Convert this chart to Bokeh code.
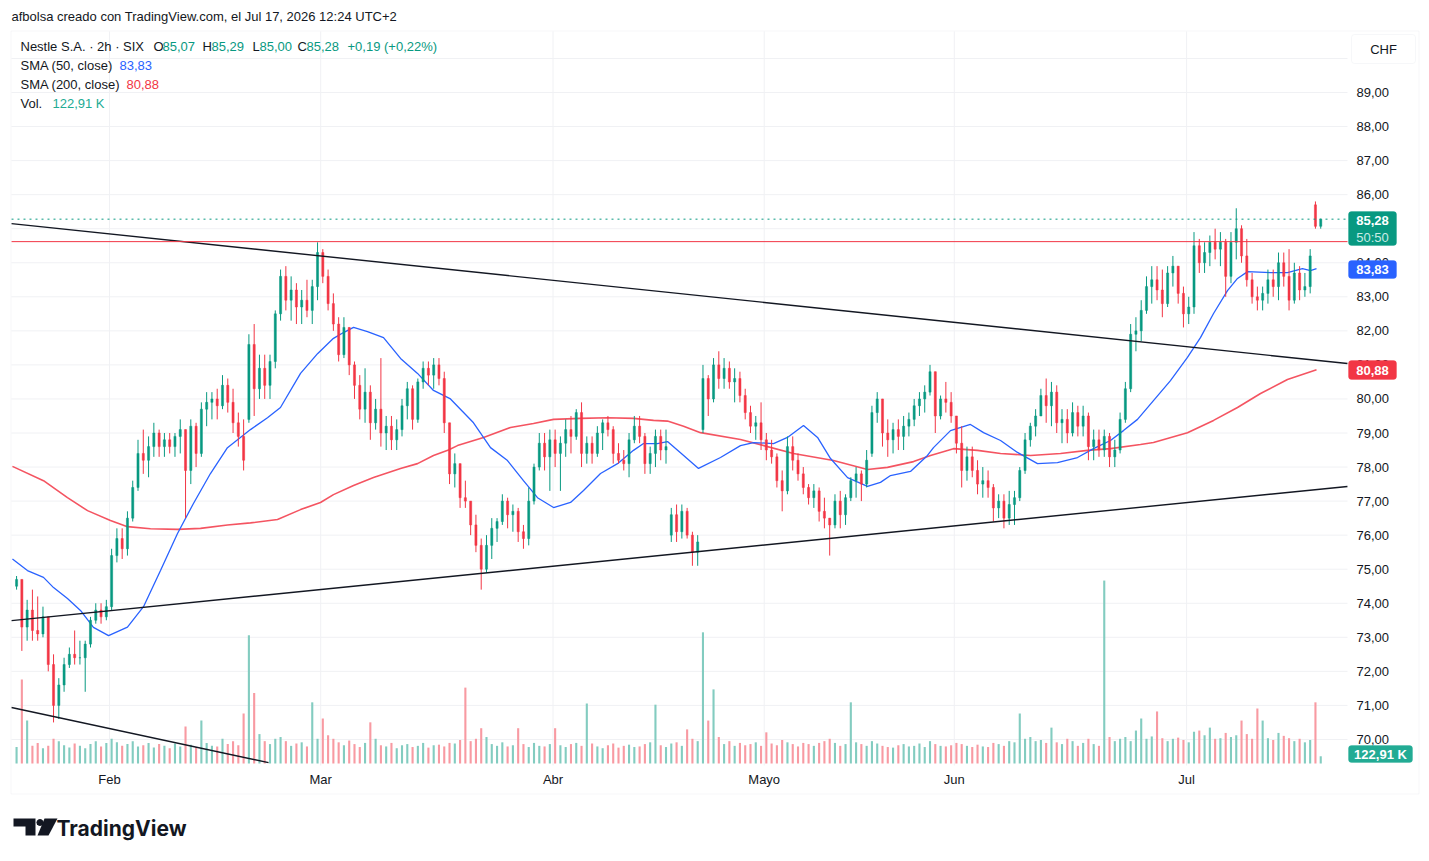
import numpy as np
from bokeh.plotting import figure
from bokeh.models import (Range1d, FixedTicker, Label, BoxAnnotation,
                          PolyAnnotation, ColumnDataSource)
from bokeh.embed import file_html
from bokeh.resources import INLINE

# ---------------- data (2 bars per trading day; day 0 = 2 Feb 2026) ----------------
first_day = -9
bar_open = [
    74.5, 74.7, 73.3, 73.8, 73.2, 73.1, 73.6, 72.2, 71.0, 71.6,
    72.2, 72.5, 72.4, 72.4, 72.8, 73.5, 73.8, 73.6,
    73.9, 75.4, 75.9, 75.6, 76.5, 77.4, 78.4, 78.2, 78.6, 79.0,
    78.6, 78.8, 78.6, 78.9, 79.1, 77.9, 79.2, 78.4, 79.7, 79.9,
    80.0, 79.8, 80.4, 79.9, 79.3, 78.9, 79.4, 81.6, 80.3, 80.9,
    80.4, 81.1, 82.5, 83.6, 82.9, 83.2, 82.7, 82.9, 82.6, 83.3,
    84.3, 83.6, 82.8, 82.2, 81.3, 82.1, 81.0, 80.4, 79.7, 80.2,
    79.3, 79.7, 79.0, 79.2, 78.8, 79.1, 79.8, 80.3, 79.4, 80.5,
    80.9, 80.7, 81.0, 80.6, 79.3, 77.8, 78.1, 77.1, 77.0, 76.3,
    75.7, 75.0, 75.7, 76.2, 76.4, 77.0, 76.6, 76.7, 76.1, 75.9,
    77.0, 78.0, 78.7, 78.3, 78.8, 78.4, 78.7, 79.1, 78.9, 79.6,
    78.4, 78.7, 78.4, 79.0, 79.3, 79.1, 78.4, 78.2, 78.1, 78.8,
    79.2, 78.9, 78.1, 78.4, 78.9, 78.5, 76.0, 76.6, 76.1, 76.7,
    76.0, 75.5, 79.1, 80.6, 80.0, 81.0, 80.6, 80.9, 80.5, 80.6,
    80.1, 79.6, 79.2, 79.3, 78.8, 78.5, 78.3, 77.6, 77.3, 78.6,
    78.2, 77.8, 77.4, 77.1, 77.3, 76.7, 76.5, 76.3, 77.0, 76.6,
    77.1, 77.6, 77.8, 77.5, 78.4, 79.6, 80.0, 79.0, 78.8, 79.1,
    78.9, 79.2, 79.4, 79.8, 80.0, 80.2, 80.8, 79.5, 80.0, 79.9,
    79.5, 78.7, 77.9, 78.3, 77.9, 77.5, 77.6, 77.4, 76.8, 77.0,
    76.5, 76.9, 77.1, 77.9, 78.8, 79.2, 79.5, 80.1, 79.8, 80.2,
    79.3, 79.4, 79.0, 79.6, 79.2, 79.5, 78.6, 78.8, 78.5, 78.9,
    78.3, 78.5, 79.4, 80.3, 81.9, 82.0, 82.6, 83.3, 83.5, 83.2,
    82.8, 83.7, 83.9, 83.1, 82.5, 82.7, 84.5, 84.0, 84.3, 84.6,
    84.4, 84.6, 83.6, 84.6, 85.0, 84.2, 83.5, 83.0, 82.9, 83.1,
    83.5, 83.3, 84.0, 83.6, 82.9, 83.7, 83.2, 83.3, 85.7, 85.07,
]
bar_high = [
    74.8, 74.7, 74.1, 74.4, 74.2, 73.9, 73.6, 72.5, 71.8, 72.4,
    72.7, 73.2, 72.9, 72.9, 73.6, 74.0, 74.0, 74.1,
    75.6, 76.2, 76.2, 76.7, 77.6, 78.8, 79.1, 78.9, 79.3, 79.1,
    79.0, 79.0, 79.0, 79.4, 79.1, 79.4, 79.3, 79.9, 80.2, 80.2,
    80.3, 80.7, 80.6, 80.3, 79.6, 79.4, 81.9, 82.2, 81.3, 81.3,
    81.3, 82.6, 83.8, 83.9, 83.6, 83.4, 83.2, 83.5, 83.5, 84.6,
    84.4, 83.8, 83.1, 82.4, 82.4, 82.1, 81.1, 80.7, 80.9, 80.4,
    80.0, 81.2, 79.5, 79.5, 79.4, 80.0, 80.5, 80.4, 80.6, 81.1,
    81.1, 81.2, 81.2, 80.8, 79.3, 78.4, 78.1, 77.6, 77.0, 76.6,
    75.9, 76.0, 76.5, 76.5, 77.2, 77.1, 76.9, 76.8, 76.3, 77.4,
    78.1, 79.0, 79.0, 79.1, 79.1, 78.9, 79.4, 79.5, 79.7, 79.9,
    78.9, 78.9, 79.2, 79.4, 79.5, 79.2, 78.7, 78.5, 79.0, 79.5,
    79.5, 79.0, 78.6, 79.1, 79.1, 79.1, 76.8, 76.9, 76.9, 76.8,
    76.1, 76.0, 81.0, 80.7, 81.2, 81.4, 81.2, 81.1, 80.9, 80.8,
    80.3, 79.8, 79.5, 79.9, 79.0, 78.8, 78.4, 77.9, 78.9, 78.9,
    78.4, 78.0, 77.5, 77.5, 77.4, 77.1, 76.5, 77.2, 77.3, 77.2,
    77.7, 78.0, 77.9, 78.5, 79.8, 80.2, 80.0, 79.4, 79.3, 79.4,
    79.5, 79.6, 80.0, 80.2, 80.4, 81.0, 80.8, 80.1, 80.5, 80.2,
    79.5, 79.2, 78.6, 78.6, 78.2, 78.0, 77.9, 77.5, 77.2, 77.2,
    77.3, 77.3, 78.0, 79.0, 79.3, 79.7, 80.3, 80.6, 80.5, 80.4,
    79.7, 79.7, 79.9, 79.8, 79.8, 79.6, 79.1, 79.1, 79.1, 79.0,
    78.8, 79.6, 80.5, 82.2, 82.4, 82.9, 83.6, 83.9, 83.9, 83.8,
    83.9, 84.2, 83.9, 83.3, 83.0, 84.9, 84.7, 84.6, 84.8, 85.0,
    84.9, 84.7, 84.9, 85.6, 85.1, 84.7, 83.7, 83.3, 83.3, 83.8,
    83.8, 84.3, 84.3, 84.4, 84.0, 83.9, 83.7, 84.4, 85.8, 85.29,
]
bar_low = [
    74.4, 72.6, 72.9, 72.9, 72.9, 73.0, 72.0, 70.5, 70.6, 71.4,
    72.1, 72.2, 72.2, 71.4, 72.7, 73.4, 73.4, 73.5,
    73.8, 75.2, 75.3, 75.4, 76.4, 77.3, 77.8, 77.7, 78.3, 78.3,
    78.3, 78.4, 78.3, 78.4, 76.5, 77.5, 78.0, 78.3, 79.2, 79.4,
    79.4, 79.7, 79.6, 79.0, 78.6, 77.9, 79.3, 79.5, 80.0, 80.0,
    80.0, 80.9, 82.3, 82.6, 82.3, 82.2, 82.2, 82.4, 82.2, 82.9,
    83.4, 82.6, 82.0, 81.1, 81.2, 80.7, 80.0, 79.4, 79.3, 78.8,
    79.1, 78.6, 78.5, 78.5, 78.5, 78.9, 79.4, 79.1, 79.3, 80.3,
    80.4, 80.3, 80.4, 79.0, 77.5, 77.4, 76.8, 76.8, 76.0, 75.5,
    74.4, 74.9, 75.3, 75.8, 76.3, 76.2, 76.1, 75.8, 75.6, 75.7,
    76.9, 77.9, 77.9, 77.3, 78.0, 77.3, 78.3, 78.4, 78.8, 78.0,
    78.1, 78.1, 78.3, 78.5, 78.9, 78.1, 78.1, 77.9, 77.7, 78.7,
    78.7, 77.8, 77.8, 78.0, 78.2, 78.1, 75.8, 75.8, 75.9, 75.9,
    75.1, 75.1, 79.0, 79.5, 79.9, 80.3, 80.3, 80.3, 79.9, 79.9,
    79.4, 79.0, 78.8, 78.5, 78.2, 78.1, 77.4, 76.7, 77.2, 77.9,
    77.6, 77.2, 76.9, 76.8, 76.4, 76.2, 75.4, 76.2, 76.2, 76.3,
    77.0, 77.1, 77.0, 77.4, 78.3, 79.3, 78.6, 78.3, 78.4, 78.5,
    78.5, 78.9, 79.2, 79.5, 79.6, 80.1, 79.0, 79.4, 79.6, 79.3,
    78.4, 77.4, 77.6, 77.7, 77.2, 77.1, 77.1, 76.4, 76.5, 76.2,
    76.3, 76.3, 77.0, 77.8, 78.6, 78.9, 79.5, 79.3, 79.2, 79.0,
    78.7, 78.7, 78.9, 78.9, 78.9, 78.2, 78.2, 78.3, 78.3, 78.0,
    78.0, 78.4, 79.3, 80.2, 81.4, 81.7, 82.5, 82.8, 82.9, 82.4,
    82.7, 83.3, 82.8, 82.1, 82.2, 82.5, 83.7, 83.7, 83.9, 84.1,
    83.9, 83.0, 83.4, 84.1, 84.0, 83.3, 82.8, 82.6, 82.6, 82.8,
    83.0, 82.9, 83.3, 82.6, 82.8, 82.9, 83.0, 83.1, 85.0, 85.00,
]
bar_close = [
    74.7, 73.3, 73.8, 73.2, 73.1, 73.6, 72.2, 71.0, 71.6, 72.2,
    72.5, 72.4, 72.4, 72.8, 73.5, 73.8, 73.6, 73.9,
    75.4, 75.9, 75.6, 76.5, 77.4, 78.4, 78.2, 78.6, 79.0, 78.6,
    78.8, 78.6, 78.9, 79.1, 77.9, 79.2, 78.4, 79.7, 79.9, 80.0,
    79.8, 80.4, 79.9, 79.3, 78.9, 78.2, 81.6, 80.3, 80.9, 80.4,
    81.1, 82.5, 83.6, 82.9, 83.2, 82.7, 82.9, 82.6, 83.3, 84.3,
    83.6, 82.8, 82.2, 81.3, 82.1, 81.0, 80.4, 79.7, 80.2, 79.3,
    79.7, 79.0, 79.2, 78.8, 79.1, 79.8, 80.3, 79.4, 80.5, 80.9,
    80.7, 81.0, 80.6, 79.3, 77.8, 78.1, 77.1, 77.0, 76.3, 75.7,
    75.0, 75.7, 76.2, 76.4, 77.0, 76.6, 76.7, 76.1, 75.9, 77.0,
    78.0, 78.7, 78.3, 78.8, 78.4, 78.7, 79.1, 78.9, 79.6, 78.4,
    78.7, 78.4, 79.0, 79.3, 79.1, 78.4, 78.2, 78.1, 78.8, 79.2,
    78.9, 78.1, 78.4, 78.9, 78.5, 78.6, 76.6, 76.1, 76.7, 76.0,
    75.5, 75.8, 80.6, 80.0, 81.0, 80.6, 80.9, 80.5, 80.6, 80.1,
    79.6, 79.2, 79.3, 78.8, 78.5, 78.3, 77.6, 77.3, 78.6, 78.2,
    77.8, 77.4, 77.1, 77.3, 76.7, 76.5, 76.3, 77.0, 76.6, 77.1,
    77.6, 77.8, 77.5, 78.2, 79.6, 80.0, 79.0, 78.8, 79.1, 78.9,
    79.2, 79.4, 79.8, 80.0, 80.2, 80.8, 79.5, 80.0, 79.9, 79.5,
    78.7, 77.9, 78.3, 77.9, 77.5, 77.6, 77.4, 76.8, 77.0, 76.5,
    76.9, 77.1, 77.9, 78.8, 79.2, 79.5, 80.1, 79.8, 80.2, 79.3,
    79.4, 79.0, 79.6, 79.2, 79.5, 78.6, 78.8, 78.5, 78.9, 78.3,
    78.5, 79.4, 80.3, 81.9, 82.0, 82.6, 83.3, 83.5, 83.2, 82.8,
    83.7, 83.9, 83.1, 82.5, 82.7, 84.5, 84.0, 84.3, 84.6, 84.4,
    84.6, 83.6, 84.6, 85.0, 84.2, 83.5, 83.0, 82.9, 83.1, 83.5,
    83.3, 84.0, 83.6, 82.9, 83.7, 83.2, 83.3, 84.2, 85.07, 85.28,
]
volume_k = [
    280, 1430, 730, 300, 350, 260, 300, 420, 380, 310,
    270, 340, 300, 260, 330, 380, 290, 350,
    420, 360, 300, 330, 380, 290, 310, 350, 270, 330,
    300, 260, 340, 290, 630, 320, 280, 730, 350, 300,
    290, 420, 330, 380, 310, 850, 2180, 1200, 500, 380,
    330, 420, 450, 380, 300, 340, 360, 290, 1040, 420,
    765, 480, 420, 360, 310, 390, 330, 280, 350, 700,
    420, 310, 290, 350, 260, 310, 330, 280, 300, 350,
    270, 310, 320, 290, 350, 340, 400, 1290, 380, 420,
    600, 450, 330, 300, 360, 290, 310, 600, 330, 280,
    350, 300, 290, 330, 600, 310, 280, 330, 350, 300,
    1020, 340, 290, 260, 310, 340, 270, 300, 320, 280,
    290, 330, 360, 1000, 310, 280, 340, 360, 300, 580,
    420, 380, 2230, 730, 1260, 450, 330, 380, 300, 350,
    310, 330, 360, 300, 530, 340, 310, 400, 360, 330,
    290, 350, 330, 300, 350, 380, 420, 350, 300, 330,
    1040, 360, 330, 300, 380, 340, 300, 280, 270, 310,
    330, 290, 300, 340, 280, 380, 330, 300, 290, 310,
    350, 330, 300, 280, 320, 290, 280, 350, 330, 300,
    380, 360, 850, 420, 450, 380, 400, 350, 610, 360,
    330, 420, 380, 300, 350, 420, 330, 300, 3110, 450,
    380, 420, 450, 380, 560, 765, 420, 460, 885, 430,
    380, 420, 440, 400, 360, 540, 560, 480, 610, 420,
    430, 520, 450, 480, 730, 500, 420, 935, 730, 430,
    400, 520, 470, 430, 380, 420, 360, 400, 1040, 123,
]
sma50_t = [-9.19, -7.77, -6.25, -5.30, -3.98, -2.75, -1.52, -0.09, 1.70, 3.22,
           4.83, 6.44, 7.95, 9.56, 11.17, 13.35, 14.96, 16.19, 18.09, 19.70,
           21.21, 22.16, 23.11, 24.43, 25.95, 27.56, 29.17, 30.68, 32.29, 34.47,
           36.08, 37.69, 39.20, 40.53, 42.05, 43.66, 44.89, 46.50, 48.11, 49.62,
           50.57, 51.89, 52.84, 54.07, 55.78, 57.86, 59.75, 60.98, 62.88, 64.20,
           65.72, 67.05, 68.28, 69.89, 71.78, 73.01, 73.96, 75.85, 77.46, 78.03,
           79.64, 81.53, 82.77, 84.38, 85.98, 87.88, 89.77, 91.67, 93.18, 94.79,
           96.02, 97.35, 98.86, 100.47, 102.08, 103.31, 104.55, 105.87, 106.82, 107.77,
           109.94, 111.55, 112.97, 113.73, 114.30]
sma50_v = [75.30, 74.96, 74.76, 74.46, 74.14, 73.79, 73.29, 73.05, 73.30, 73.90,
           74.96, 76.05, 76.93, 77.81, 78.57, 79.10, 79.45, 79.75, 80.75, 81.33,
           81.78, 81.95, 82.10, 81.98, 81.80, 81.19, 80.75, 80.25, 80.00, 79.30,
           78.57, 78.19, 77.60, 77.10, 76.81, 76.96, 77.31, 77.81, 78.10, 78.49,
           78.69, 78.69, 78.75, 78.42, 77.96, 78.28, 78.63, 78.72, 78.69, 78.87,
           79.22, 78.87, 78.25, 77.69, 77.43, 77.55, 77.75, 77.87, 78.34, 78.57,
           79.07, 79.25, 79.01, 78.78, 78.43, 78.10, 78.13, 78.28, 78.54, 78.78,
           79.07, 79.40, 79.95, 80.54, 81.22, 81.80, 82.51, 83.18, 83.54, 83.74,
           83.71, 83.71, 83.83, 83.77, 83.83]
sma200_t = [-9.19, -6.25, -3.98, -2.08, 0.09, 1.70, 3.88, 6.44, 8.62, 11.17,
            13.35, 15.91, 18.09, 19.98, 21.21, 23.11, 25.00, 27.56, 29.17, 30.68,
            32.10, 32.95, 35.42, 37.97, 40.15, 42.05, 44.60, 47.16, 49.62, 51.52,
            52.84, 54.36, 55.97, 59.75, 62.31, 64.77, 68.56, 71.78, 73.67, 76.14,
            77.75, 79.92, 82.20, 84.38, 87.22, 90.06, 92.61, 94.79, 97.63, 98.86,
            102.08, 104.55, 106.82, 109.00, 111.55, 114.30]
sma200_v = [78.02, 77.60, 77.10, 76.72, 76.43, 76.25, 76.19, 76.17, 76.20, 76.30,
            76.36, 76.46, 76.75, 76.96, 77.19, 77.46, 77.69, 77.96, 78.10, 78.34,
            78.50, 78.63, 78.87, 79.16, 79.28, 79.40, 79.43, 79.45, 79.43, 79.37,
            79.35, 79.20, 79.01, 78.81, 78.60, 78.40, 78.19, 77.93, 77.99, 78.16,
            78.34, 78.54, 78.49, 78.40, 78.34, 78.40, 78.49, 78.54, 78.66, 78.72,
            79.01, 79.37, 79.75, 80.16, 80.57, 80.86]
month_ticks = [0, 20, 42, 62, 80, 102]
month_labels = ["Feb", "Mar", "Abr", "Mayo", "Jun", "Jul"]
price_ticks = list(range(70, 90))
grid_prices = list(range(70, 91))
resistance_level = 84.62
last_close = 85.28
trend_upper_t, trend_upper_p = [-9.28, 117.23], [85.15, 81.04]
trend_lower_t, trend_lower_p = [-9.28, 117.23], [73.49, 77.43]
trend_low2_t, trend_low2_p = [-9.28, 15.06], [70.94, 69.32]

# ---------------- helpers: image pixel -> data coordinate ----------------
W, H = 1421, 853

def tx(px):
    return (px - 109.0) / 10.56

def ty(py):
    return 89.0 - (py - 92.0) / 34.05

PANE_L, PANE_R = tx(11), tx(1347)      # price pane horizontal extent
PANE_T, PANE_B = ty(31), ty(765)       # price pane vertical extent

UP, DOWN = "#089981", "#f23645"
UPV, DOWNV = "#83ccc0", "#f89aa2"
TXT = "#131722"
GRID = "#f0f1f4"
FONT = "Liberation Sans"

n = len(bar_open)
t = first_day + 0.5 * np.arange(n) + 0.2
o = np.array(bar_open); c = np.array(bar_close)
hi = np.maximum.reduce([np.array(bar_high), o, c])
lo = np.minimum.reduce([np.array(bar_low), o, c])
up = c >= o
src = ColumnDataSource(dict(
    t=t, o=o, c=c, h=hi, l=lo,
    top=np.maximum(o, c), bot=np.minimum(o, c),
    col=[UP if u else DOWN for u in up],
    vcol=[UPV if u else DOWNV for u in up],
    vol=np.array(volume_k, dtype=float),
))

p = figure(width=W, height=H,
           x_range=Range1d(tx(0), tx(W)), y_range=Range1d(ty(H), ty(0)),
           output_backend="svg", toolbar_location=None, y_axis_location="right",
           min_border_left=0, min_border_right=0, min_border_top=0, min_border_bottom=0)
p.outline_line_color = None
p.background_fill_color = "white"
p.border_fill_color = "white"
# volume: 17K per pixel, zero at the bottom of the pane
p.extra_y_ranges = {"vol": Range1d((763 - H) * 17, 763 * 17)}
p.grid.visible = False

# axes drawn at the pane edges
p.yaxis.ticker = FixedTicker(ticks=price_ticks)
p.yaxis.major_label_overrides = {v: f"{v},00" for v in price_ticks}
p.yaxis.fixed_location = PANE_R
p.xaxis.ticker = FixedTicker(ticks=month_ticks)
p.xaxis.major_label_overrides = dict(zip(month_ticks, month_labels))
p.xaxis.fixed_location = PANE_B
for ax in (p.xaxis[0], p.yaxis[0]):
    ax.axis_line_color = None
    ax.major_tick_line_color = None
    ax.minor_tick_line_color = None
    ax.major_tick_out = 0
    ax.major_tick_in = 0
    ax.minor_tick_out = 0
    ax.minor_tick_in = 0
    ax.major_label_text_font = FONT
    ax.major_label_text_font_size = "13px"
    ax.major_label_text_color = TXT
p.yaxis.major_label_standoff = 9
p.xaxis.major_label_standoff = 6

# grid lines of the price pane
p.segment(x0=PANE_L, x1=PANE_R, y0=grid_prices, y1=grid_prices, line_color=GRID, line_width=1)
p.segment(x0=month_ticks, x1=month_ticks, y0=PANE_T, y1=PANE_B, line_color=GRID, line_width=1)

# volume
p.vbar(x="t", width=0.2, top="vol", bottom=0, source=src, y_range_name="vol",
       fill_color="vcol", line_color=None)

# moving averages
p.line(sma200_t, sma200_v, line_color="#f23645", line_width=1.6, line_alpha=0.85)
p.line(sma50_t, sma50_v, line_color="#2962ff", line_width=1.3)

# candles
p.segment(x0="t", y0="l", x1="t", y1="h", source=src, line_color="col", line_width=1)
p.vbar(x="t", width=0.2, top="top", bottom="bot", source=src,
       fill_color="col", line_color="col", line_width=0.5)

# drawings
for xs, ys in ((trend_upper_t, trend_upper_p), (trend_lower_t, trend_lower_p),
               (trend_low2_t, trend_low2_p)):
    p.line(xs, ys, line_color="#131722", line_width=1.4)
p.line([PANE_L, PANE_R], [resistance_level] * 2, line_color="#f23645", line_width=1)
p.line([PANE_L, PANE_R], [last_close] * 2, line_color="#089981", line_width=1, line_dash="2 4")

# outer frame of the chart widget
p.add_layout(BoxAnnotation(left=tx(10.5), right=tx(1418.5), top=ty(30.5), bottom=ty(793.5),
                           fill_color=None, line_color="#e0e3eb", line_width=1))

def lab(text, px, py, color=TXT, size="13px", style="normal", align="left", font=FONT):
    p.add_layout(Label(x=tx(px), y=ty(py), text=text, text_color=color,
                       text_font=font, text_font_size=size, text_font_style=style,
                       text_align=align, text_baseline="middle"))

def tag(px0, px1, py0, py1, color, line=None):
    p.add_layout(BoxAnnotation(left=tx(px0), right=tx(px1), top=ty(py0), bottom=ty(py1),
                               fill_color=color, fill_alpha=1,
                               line_color=line if line else color, line_width=1,
                               border_radius=3))

# price tags on the axis
tag(1351, 1415, 34, 63, "white", "#e0e3eb")
lab("CHF", 1383, 49, align="center")
tag(1348, 1396, 211, 245, "#089981")
lab("85,28", 1372, 220, color="white", style="bold", align="center")
lab("50:50", 1372, 237, color="#c9ece6", align="center")
tag(1348, 1396, 260, 278, "#2962ff")
lab("83,83", 1372, 269, color="white", style="bold", align="center")
tag(1348, 1396, 360, 379, "#f23645")
lab("80,88", 1372, 370, color="white", style="bold", align="center")
tag(1348, 1412, 745, 762, "#22ab94")
lab("122,91 K", 1380, 754, color="white", style="bold", align="center")

# header / legend texts
lab("afbolsa creado con TradingView.com, el Jul 17, 2026 12:24 UTC+2", 11, 16)
lab("Nestle S.A. \u00b7 2h \u00b7 SIX", 20, 46)
for s, x0 in (("O", 153), ("H", 202), ("L", 252), ("C", 297)):
    lab(s, x0, 46)
for s, x0 in (("85,07", 162), ("85,29", 211), ("85,00", 259), ("85,28", 306),
              ("+0,19 (+0,22%)", 347)):
    lab(s, x0, 46, color="#089981")
lab("SMA (50, close)", 20, 65)
lab("83,83", 119, 65, color="#2962ff")
lab("SMA (200, close)", 20, 84)
lab("80,88", 126, 84, color="#f23645")
lab("Vol.", 20, 103)
lab("122,91 K", 52, 103, color="#22ab94")

# TradingView logo
def poly(pts):
    p.add_layout(PolyAnnotation(xs=[tx(a) for a, b in pts], ys=[ty(b) for a, b in pts],
                                fill_color="#131722", fill_alpha=1, line_color=None))
poly([(13, 818), (35, 818), (35, 835), (25, 835), (25, 826), (13, 826)])
ang = np.linspace(0, 2 * np.pi, 12, endpoint=False)
poly([(39.5 + 3.6 * np.cos(a), 822 + 3.6 * np.sin(a)) for a in ang])
poly([(44, 818), (57, 818), (48, 835), (37, 835)])
lab("TradingView", 56, 828, size="21px", style="bold", font="Inter")

open("out.html", "w").write(file_html(p, INLINE))
